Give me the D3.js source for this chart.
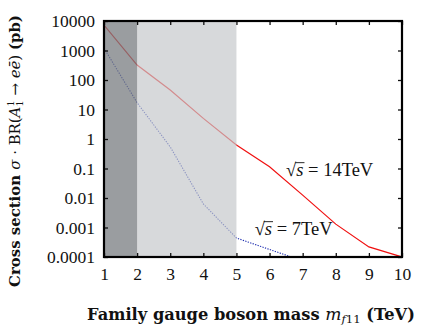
<!DOCTYPE html>
<html>
<head>
<meta charset="utf-8">
<script src="https://cdn.jsdelivr.net/npm/d3@7"></script>
<style>
  body { margin: 0; background: #fff; }
</style>
</head>
<body>
<svg id="chart"></svg>
<script>
// mass points (TeV) and cross sections (pb)
var masses14 = [1, 2, 3, 4, 5, 6, 7, 8, 9, 10];
var sigma14 = [7300, 320, 46, 5, 0.63, 0.115, 0.0125, 0.0013, 0.00022, 0.0001];
var masses7 = [1, 2, 3, 4, 5, 6, 7];
var sigma7 = [1200, 17, 0.54, 0.0063, 0.00044, 0.00018, 0.000074];

var xTicks = [1, 2, 3, 4, 5, 6, 7, 8, 9, 10];
var yTicks = [1e-4, 1e-3, 1e-2, 1e-1, 1, 10, 100, 1000, 10000];
var yTickLabels = ["0.0001", "0.001", "0.01", "0.1", "1", "10", "100", "1000", "10000"];

// excluded regions (TeV)
var bands = [
  {from: 2, to: 5, fill: "rgb(196,199,202)", op: 0.68},
  {from: 1, to: 2, fill: "rgb(120,124,128)", op: 0.75}
];

var FONT = "'Liberation Serif', 'DejaVu Serif', serif";
var TITLE_FONT = "'DejaVu Serif', 'Liberation Serif', serif";

var width = 436, height = 327;
var margin = {top: 21, right: 34, bottom: 70, left: 104};

var svg = d3.select('#chart')
    .attr('width', width)
    .attr('height', height);

var x = d3.scaleLinear().domain([1, 10]).range([margin.left, width - margin.right]);
var y = d3.scaleLog().domain([1e-4, 1e4]).range([height - margin.bottom, margin.top]);

svg.append("clipPath").attr("id", "plot-clip")
  .append("rect")
    .attr("x", x(1)).attr("y", y(1e4))
    .attr("width", x(10) - x(1)).attr("height", y(1e-4) - y(1e4));

var plot = svg.append("g").attr("clip-path", "url(#plot-clip)");

var line = d3.line()
    .x(d => x(d[0]))
    .y(d => y(d[1]));

plot.append("path")
    .datum(d3.zip(masses14, sigma14))
    .attr("d", line)
    .attr("fill", "none")
    .attr("stroke", "#f01010")
    .attr("stroke-width", 1.2);

plot.append("path")
    .datum(d3.zip(masses7, sigma7))
    .attr("d", line)
    .attr("fill", "none")
    .attr("stroke", "#1f2fb0")
    .attr("stroke-width", 1.1)
    .attr("stroke-dasharray", "1.3,1.3");

// shaded bands go on top of the curves (semi transparent)
plot.selectAll(".band")
    .data(bands)
  .enter().append("rect")
    .classed("band", true)
    .attr("x", d => x(d.from))
    .attr("width", d => x(d.to) - x(d.from))
    .attr("y", y(1e4))
    .attr("height", y(1e-4) - y(1e4))
    .attr("fill", d => d.fill)
    .attr("fill-opacity", d => d.op);

// axes, ticks inward on all sides
var tickLen = 4;
svg.append("g")
    .attr("transform", "translate(0," + y(1e-4) + ")")
    .call(d3.axisBottom(x).tickValues(xTicks).tickSize(-tickLen).tickPadding(11))
    .call(g => g.select(".domain").remove());
svg.append("g")
    .attr("transform", "translate(0," + y(1e4) + ")")
    .call(d3.axisTop(x).tickValues(xTicks).tickSize(-tickLen).tickFormat(""))
    .call(g => g.select(".domain").remove());
svg.append("g")
    .attr("transform", "translate(" + x(1) + ",0)")
    .call(d3.axisLeft(y).tickValues(yTicks).tickSize(-tickLen).tickPadding(9)
          .tickFormat((d, i) => yTickLabels[i]))
    .call(g => g.select(".domain").remove());
svg.append("g")
    .attr("transform", "translate(" + x(10) + ",0)")
    .call(d3.axisRight(y).tickValues(yTicks).tickSize(-tickLen).tickFormat(""))
    .call(g => g.select(".domain").remove());

svg.selectAll("g").attr("font-family", null);
svg.selectAll(".tick line").attr("stroke", "#111").attr("stroke-width", 1.3);
svg.selectAll(".tick text")
    .style("font-family", FONT)
    .attr("font-size", 17.5)
    .attr("fill", "#111");

// frame
svg.append("rect")
    .attr("x", x(1)).attr("y", y(1e4))
    .attr("width", x(10) - x(1)).attr("height", y(1e-4) - y(1e4))
    .attr("fill", "none")
    .attr("stroke", "#000")
    .attr("stroke-width", 2.2);

// curve labels
function sqrtLabel(px, py, val) {
    var t = svg.append("text")
        .attr("x", px).attr("y", py)
        .style("font-family", FONT)
        .attr("fill", "#111")
        .attr("font-size", 18.5);
    t.append("tspan").text("\u221A");
    t.append("tspan").attr("font-style", "italic").text("s");
    t.append("tspan").text(" = " + val + "TeV");
    // bar of the square root over s
    var bb = t.node().getBBox();
    var sNode = t.selectAll("tspan").nodes()[1];
    var sx = sNode.getStartPositionOfChar(0).x;
    var ex = sNode.getEndPositionOfChar(0).x;
    svg.append("line")
        .attr("x1", sx - 1).attr("x2", ex + 1)
        .attr("y1", bb.y + 2.5).attr("y2", bb.y + 2.5)
        .attr("stroke", "#111").attr("stroke-width", 0.9);
}
sqrtLabel(x(6.5), y(0.055), 14);
sqrtLabel(x(5.55), y(0.00055), 7);

// scale a title's font so it spans the wanted length
function fitTitle(t, base, want) {
    var len = t.node().getComputedTextLength();
    t.attr("font-size", base * want / len);
}

// x axis title
var xt = svg.append("text")
    .attr("x", 251)
    .attr("y", 320)
    .style("font-family", TITLE_FONT)
    .attr("fill", "#111")
    .attr("text-anchor", "middle")
    .attr("font-size", 14)
    .attr("font-weight", "bold");
xt.append("tspan").text("Family gauge boson mass ");
xt.append("tspan").attr("font-style", "italic").attr("font-weight", "normal").attr("font-size", "1.05em").text("m");
xt.append("tspan").attr("font-style", "italic").attr("font-weight", "normal")
    .attr("font-size", "0.72em").attr("dy", 3).text("f");
xt.append("tspan").attr("font-weight", "normal").attr("font-size", "0.72em").text("11");
xt.append("tspan").attr("dy", -3).text(" (TeV)");
fitTitle(xt, 14, 328);

// y axis title
var yt = svg.append("text")
    .attr("transform", "translate(20," + 151 + ") rotate(-90)")
    .style("font-family", TITLE_FONT)
    .attr("fill", "#111")
    .attr("text-anchor", "middle")
    .attr("font-size", 14);
yt.append("tspan").attr("font-weight", "bold").text("Cross section ");
yt.append("tspan").attr("font-style", "italic").text("\u03C3");
yt.append("tspan").text(" \u00B7 BR(");
yt.append("tspan").attr("font-style", "italic").text("A");
yt.append("tspan").attr("font-size", "0.65em").attr("dy", -6).text("1");
yt.append("tspan").attr("font-size", "0.65em").attr("dx", -6).attr("dy", 9).text("1");
yt.append("tspan").attr("dy", -3).text(" \u2192 ");
yt.append("tspan").attr("font-style", "italic").text("e\u0113");
yt.append("tspan").text(") ");
yt.append("tspan").attr("font-weight", "bold").text("(pb)");
fitTitle(yt, 14, 278);
</script>
</body>
</html>
